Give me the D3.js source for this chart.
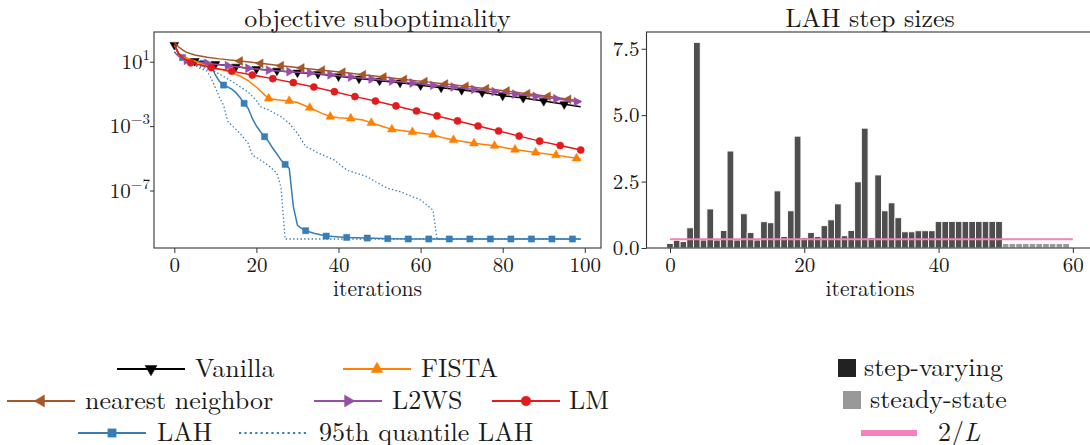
<!DOCTYPE html>
<html>
<head>
<meta charset="utf-8">
<script src="https://cdn.jsdelivr.net/npm/d3@7"></script>
<style>
  body { margin: 0; background: #fff; }
  svg { display: block; }
</style>
</head>
<body>
<script>
// ---- tick labels ----
const iterTicksLeft = [0, 20, 40, 60, 80, 100];
const subTicks = [1e1, 1e-3, 1e-7];
const subTickExp = ['1', '\u22123', '\u22127'];
const iterTicksRight = [0, 20, 40, 60];
const stepTicks = [0, 2.5, 5, 7.5];

// ---- objective suboptimality: [iteration, value] ----
const vanilla = [[0,110],[1,33],[2,20],[3,15],[5,11],[10,7.2],[15,4.9],[20,3.5],[25,2.75],[30,2.1],[35,1.74],[40,1.23],[45,0.89],[50,0.66],[55,0.5],[60,0.34],[65,0.245],[70,0.174],[75,0.126],[80,0.078],[85,0.056],[90,0.036],[95,0.023],[99,0.016]];
const vanillaMarks = [0,5,10,15,20,25,30,35,40,45,50,55,60,65,70,75,80,85,90,95];

const nearest = [[0,160],[1,85],[2,54],[3,38],[5,26],[8,19],[11,15],[16,11],[21,7.9],[26,5.6],[31,4.1],[36,3.0],[41,2.2],[46,1.55],[51,1.12],[56,0.79],[61,0.58],[66,0.41],[71,0.295],[76,0.21],[81,0.151],[86,0.102],[91,0.071],[96,0.046],[99,0.036]];
const nearestMarks = [16,21,26,31,36,41,46,51,56,61,66,71,76,81,86,91,96];

const l2ws = [[0,40],[1,22],[3,12],[8,7.9],[13,5.6],[18,3.9],[23,3.0],[28,2.4],[33,2.0],[38,1.55],[43,1.12],[48,0.85],[53,0.63],[58,0.48],[63,0.34],[68,0.27],[73,0.19],[78,0.138],[83,0.098],[88,0.071],[93,0.05],[98,0.033],[99,0.032]];
const l2wsMarks = [3,8,13,18,23,28,33,38,43,48,53,58,63,68,73,78,83,88,93,98];

const lm = [[0,110],[1,33],[2,18],[4,8.5],[9,4.3],[14,2.6],[19,1.48],[24,0.89],[29,0.5],[34,0.27],[39,0.138],[44,0.068],[49,0.036],[54,0.018],[59,0.0087],[64,0.0043],[69,0.0021],[74,0.00102],[79,5.0e-4],[84,2.4e-4],[89,1.17e-4],[94,6.3e-5],[99,3.3e-5]];
const lmMarks = [4,9,14,19,24,29,34,39,44,49,54,59,64,69,74,79,84,89,94,99];

const fista = [[0,110],[1,33],[2,20],[5,11],[9,3.9],[12,3.0],[14,2.1],[16,1.29],[18,0.66],[20,0.26],[22,0.087],[23,0.052],[25,0.044],[28,0.037],[30,0.029],[33,0.0138],[36,0.0062],[38,0.0039],[40,0.0033],[43,0.003],[46,0.0024],[48,0.0016],[51,9.1e-4],[53,6.3e-4],[58,4.3e-4],[63,2.95e-4],[66,1.74e-4],[68,1.38e-4],[73,8.5e-5],[78,6.0e-5],[83,3.5e-5],[88,2.3e-5],[93,1.58e-5],[98,1.0e-5],[99,9.1e-6]];
const fistaMarks = [23,28,33,38,43,48,53,58,63,68,73,78,83,88,93,98];

const lah = [[0,110],[1,30],[2,18],[4,13],[7,8],[9,5.5],[10,1.5],[11,0.6],[12,0.355],[13,0.27],[14,0.2],[15,0.12],[16,0.06],[17,0.026],[18,0.0126],[19,0.003],[20,0.00102],[21,4.5e-4],[22,2.2e-4],[23,1.07e-4],[24,4.2e-5],[25,1.86e-5],[26,7.8e-6],[27,4.2e-6],[28,2.4e-6],[29,1.0e-8],[30,7e-10],[31,4.5e-10],[32,3.2e-10],[34,2.2e-10],[37,1.48e-10],[42,1.23e-10],[47,1.12e-10],[52,1.02e-10],[57,9.8e-11],[62,9.8e-11],[67,9.8e-11],[72,9.8e-11],[77,9.8e-11],[82,9.8e-11],[87,9.8e-11],[92,9.8e-11],[97,9.8e-11],[99,9.8e-11]];
const lahMarks = [2,7,12,17,22,27,32,37,42,47,52,57,62,67,72,77,82,87,92,97];

const lahQuantLow = [[0,40],[2,17],[4,10],[6,4.1],[8,2.6],[9,0.9],[10,0.25],[11,0.06],[12,0.02],[13,0.002],[14,0.0011],[15,6.3e-4],[16,3.5e-4],[18,8.5e-5],[19,1.6e-5],[21,7.8e-6],[23,3.5e-6],[25,1.2e-6],[26,1.5e-7],[27,9.8e-11],[99,9.8e-11]];
const lahQuantHigh = [[0,40],[1,26],[6,4.9],[9,3.0],[10,2.4],[14,0.6],[16,0.28],[18,0.13],[20,0.04],[21,0.016],[23,0.01],[26,0.0039],[28,0.0015],[30,3.5e-4],[32,5.5e-5],[35,2.2e-5],[39,7.8e-6],[42,1.86e-6],[47,7.2e-7],[49,3.5e-7],[52,1.38e-7],[55,8.5e-8],[60,2.6e-8],[63,6.2e-9],[64,9.8e-11],[99,9.8e-11]];

// ---- LAH step sizes ----
const stepVarying = [0.17,0.29,0.24,0.76,7.74,0.30,1.47,0.30,0.66,3.65,
                     0.30,1.29,0.58,0.30,0.99,0.95,2.15,0.43,1.40,4.21,
                     0.39,0.58,0.43,0.84,1.06,1.66,0.46,0.66,2.49,4.51,
                     0.39,2.75,1.40,1.70,1.14,0.61,0.61,0.65,0.65,0.65,
                     1.0,1.0,1.0,1.0,1.0,1.0,1.0,1.0,1.0,1.0];
const steadyState = [0.17,0.17,0.17,0.17,0.17,0.17,0.17,0.17,0.17,0.17];
const twoOverL = 0.33;
const twoOverLSpan = [0, 60];

// ---- setup ----
const SERIF = '"Latin Modern Roman", "CMU Serif", "Liberation Serif", serif';
const INK = '#1a1a1a';
const SPINE = '#333';
const TICK_FS = 21, LABEL_FS = 21.6, TITLE_FS = 26, LEGEND_FS = 26;

const svg = d3.select('body').append('svg')
    .attr('width', 1090)
    .attr('height', 445)
    .style('font-family', SERIF);

const boxL = { x0: 154, x1: 601, y0: 32, y1: 248 };
const boxR = { x0: 646.5, x1: 1093, y0: 32, y1: 248 };

const xL = d3.scaleLinear().domain([-4.95, 103.95]).range([boxL.x0, boxL.x1]);
const yL = d3.scaleLog().domain([2.7e-11, 7e2]).range([boxL.y1, boxL.y0]);
const xR = d3.scaleLinear().domain([-3.5, 63]).range([boxR.x0, boxR.x1]);
const yR = d3.scaleLinear().domain([0, 8.13]).range([boxR.y1, boxR.y0]);

const styles = {
    vanilla:  { color: '#000000', shape: 'down',  label: 'Vanilla' },
    nearest:  { color: '#a65628', shape: 'left',  label: 'nearest neighbor' },
    l2ws:     { color: '#984ea3', shape: 'right', label: 'L2WS' },
    lm:       { color: '#e41a1c', shape: 'circle', label: 'LM' },
    fista:    { color: '#ff7f00', shape: 'up',    label: 'FISTA' },
    lah:      { color: '#377eb8', shape: 'square', label: 'LAH' },
    quant:    { color: '#377eb8', shape: null,    label: '95th quantile LAH', dotted: true }
};

function symbolPath(shape, big) {
    const k = big ? 1.8 : 1;
    if (shape === 'circle') return d3.symbol(d3.symbolCircle, 40 * k)();
    if (shape === 'square') return d3.symbol(d3.symbolSquare, 38 * k)();
    return d3.symbol(d3.symbolTriangle, 34 * k)();
}
function symbolRotation(shape) {
    return { up: 0, down: 180, left: -90, right: 90 }[shape] || 0;
}

function drawMarker(g, shape, color, x, y, big) {
    g.append('path')
        .attr('d', symbolPath(shape, big))
        .attr('transform', `translate(${x},${y}) rotate(${symbolRotation(shape)})`)
        .attr('fill', color)
        .attr('stroke', color)
        .attr('stroke-width', 0.5);
}

// ---- left panel ----
const gL = svg.append('g');
const line = d3.line().x(d => xL(d[0])).y(d => yL(d[1]));

function drawSeries(pts, marks, st, dashed) {
    gL.append('path')
        .datum(pts)
        .attr('d', line)
        .attr('fill', 'none')
        .attr('stroke', st.color)
        .attr('stroke-width', dashed ? 1.3 : 1.5)
        .attr('stroke-dasharray', dashed ? '1.4,2.3' : null);
    if (marks) {
        pts.filter(p => marks.includes(p[0])).forEach(p => {
            drawMarker(gL, st.shape, st.color, xL(p[0]), yL(p[1]), false);
        });
    }
}

drawSeries(lahQuantLow, null, styles.quant, true);
drawSeries(lahQuantHigh, null, styles.quant, true);
drawSeries(lah, lahMarks, styles.lah, false);
drawSeries(vanilla, vanillaMarks, styles.vanilla, false);
drawSeries(nearest, nearestMarks, styles.nearest, false);
drawSeries(l2ws, l2wsMarks, styles.l2ws, false);
drawSeries(fista, fistaMarks, styles.fista, false);
drawSeries(lm, lmMarks, styles.lm, false);

function styleAxis(g) {
    g.select('.domain').remove();
    g.attr('font-family', SERIF).attr('font-size', TICK_FS);
    g.selectAll('line').attr('stroke', SPINE).attr('stroke-width', 1);
    g.selectAll('text').attr('fill', INK);
}

svg.append('g')
    .attr('transform', `translate(0,${boxL.y1})`)
    .call(d3.axisBottom(xL).tickValues(iterTicksLeft).tickSize(5).tickPadding(4).tickFormat(d3.format('d')))
    .call(styleAxis);

svg.append('g')
    .attr('transform', `translate(${boxL.x0},0)`)
    .call(d3.axisLeft(yL).tickValues(subTicks).tickSize(4).tickFormat(''))
    .call(styleAxis);

subTicks.forEach((v, i) => {
    const t = svg.append('text')
        .attr('x', boxL.x0 - 4)
        .attr('y', yL(v) + 7)
        .attr('text-anchor', 'end')
        .attr('font-size', TICK_FS)
        .attr('fill', INK);
    t.append('tspan').text('10');
    t.append('tspan').attr('dy', -9).attr('font-size', 15).text(subTickExp[i]);
});

svg.append('rect')
    .attr('x', boxL.x0).attr('y', boxL.y0)
    .attr('width', boxL.x1 - boxL.x0).attr('height', boxL.y1 - boxL.y0)
    .attr('fill', 'none').attr('stroke', SPINE).attr('stroke-width', 1.1);

svg.append('text')
    .attr('x', (boxL.x0 + boxL.x1) / 2).attr('y', 26.5)
    .attr('text-anchor', 'middle').attr('font-size', TITLE_FS).attr('fill', INK)
    .text('objective suboptimality');

svg.append('text')
    .attr('x', (boxL.x0 + boxL.x1) / 2).attr('y', 296)
    .attr('text-anchor', 'middle').attr('font-size', LABEL_FS).attr('fill', INK)
    .text('iterations');

// ---- right panel ----
const gR = svg.append('g');

gR.selectAll('.bar-sv')
    .data(stepVarying)
    .join('rect')
    .attr('class', 'bar-sv')
    .attr('x', (d, i) => xR(i - 0.5))
    .attr('y', d => yR(d))
    .attr('width', xR(1) - xR(0))
    .attr('height', d => yR(0) - yR(d))
    .attr('fill', '#222')
    .attr('fill-opacity', 0.8)
    .attr('stroke', '#fff')
    .attr('stroke-width', 0.9);

gR.selectAll('.bar-ss')
    .data(steadyState)
    .join('rect')
    .attr('class', 'bar-ss')
    .attr('x', (d, i) => xR(stepVarying.length + i - 0.5))
    .attr('y', d => yR(d))
    .attr('width', xR(1) - xR(0))
    .attr('height', d => yR(0) - yR(d))
    .attr('fill', '#777')
    .attr('fill-opacity', 0.75)
    .attr('stroke', '#fff')
    .attr('stroke-width', 0.9);

gR.append('line')
    .attr('x1', xR(twoOverLSpan[0])).attr('x2', xR(twoOverLSpan[1]))
    .attr('y1', yR(twoOverL)).attr('y2', yR(twoOverL))
    .attr('stroke', '#f781bf').attr('stroke-width', 2);

svg.append('g')
    .attr('transform', `translate(0,${boxR.y1})`)
    .call(d3.axisBottom(xR).tickValues(iterTicksRight).tickSize(5).tickPadding(4).tickFormat(d3.format('d')))
    .call(styleAxis);

svg.append('g')
    .attr('transform', `translate(${boxR.x0},0)`)
    .call(d3.axisLeft(yR).tickValues(stepTicks).tickSize(5).tickPadding(2).tickFormat(d3.format('.1f')))
    .call(styleAxis);

svg.append('rect')
    .attr('x', boxR.x0).attr('y', boxR.y0)
    .attr('width', boxR.x1 - boxR.x0).attr('height', boxR.y1 - boxR.y0)
    .attr('fill', 'none').attr('stroke', SPINE).attr('stroke-width', 1.1);

svg.append('text')
    .attr('x', 870).attr('y', 26.5)
    .attr('text-anchor', 'middle').attr('font-size', TITLE_FS).attr('fill', INK)
    .text('LAH step sizes');

svg.append('text')
    .attr('x', 870).attr('y', 296)
    .attr('text-anchor', 'middle').attr('font-size', LABEL_FS).attr('fill', INK)
    .text('iterations');

// ---- legends ----
const legendLeft = [
    { key: 'vanilla', row: 0, x1: 117, x2: 185, tx: 195 },
    { key: 'fista',   row: 0, x1: 343, x2: 411, tx: 421 },
    { key: 'nearest', row: 1, x1: 7,   x2: 75,  tx: 85 },
    { key: 'l2ws',    row: 1, x1: 314, x2: 382, tx: 392 },
    { key: 'lm',      row: 1, x1: 492, x2: 560, tx: 569 },
    { key: 'lah',     row: 2, x1: 78,  x2: 146, tx: 157 },
    { key: 'quant',   row: 2, x1: 239, x2: 307, tx: 319 }
];
const legendRows = [369, 401, 433];

const gLeg = svg.append('g');
legendLeft.forEach(item => {
    const st = styles[item.key];
    const y = legendRows[item.row];
    gLeg.append('line')
        .attr('x1', item.x1).attr('x2', item.x2)
        .attr('y1', y).attr('y2', y)
        .attr('stroke', st.color)
        .attr('stroke-width', st.dotted ? 2.2 : 2)
        .attr('stroke-dasharray', st.dotted ? '2.2,3.2' : null);
    if (st.shape) drawMarker(gLeg, st.shape, st.color, (item.x1 + item.x2) / 2, y, true);
    gLeg.append('text')
        .attr('x', item.tx).attr('y', y + 8)
        .attr('font-size', LEGEND_FS).attr('fill', INK)
        .text(st.label);
});

const gLegR = svg.append('g');
gLegR.append('rect').attr('x', 838).attr('y', 359).attr('width', 18).attr('height', 18).attr('fill', '#222');
gLegR.append('text').attr('x', 864).attr('y', 376).attr('font-size', LEGEND_FS).attr('fill', INK).text('step-varying');
gLegR.append('rect').attr('x', 843).attr('y', 391).attr('width', 18).attr('height', 18).attr('fill', '#999');
gLegR.append('text').attr('x', 870).attr('y', 408).attr('font-size', LEGEND_FS).attr('fill', INK).text('steady-state');
gLegR.append('line').attr('x1', 861).attr('x2', 917).attr('y1', 433).attr('y2', 433)
    .attr('stroke', '#f781bf').attr('stroke-width', 6);
const tL = gLegR.append('text').attr('x', 938).attr('y', 441).attr('font-size', LEGEND_FS).attr('fill', INK);
tL.append('tspan').text('2/');
tL.append('tspan').attr('font-style', 'italic').text('L');
</script>
</body>
</html>
